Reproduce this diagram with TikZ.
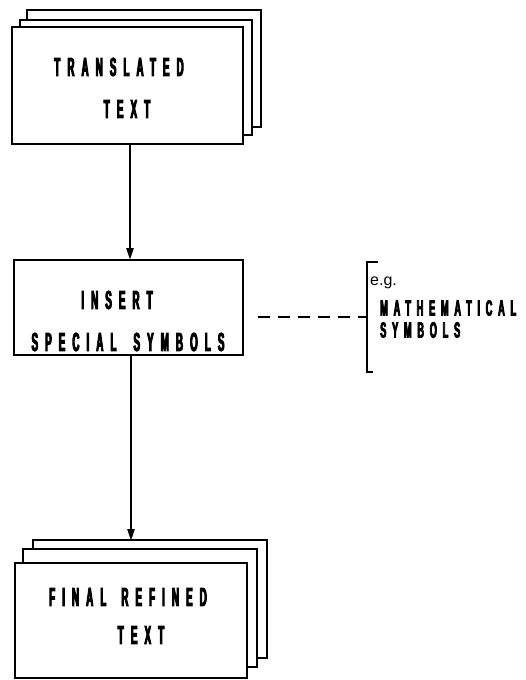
\documentclass[tikz,border=0pt]{standalone}
\usepackage{fontspec}
\setmainfont{Liberation Sans}
\newfontfamily\labfont[FakeStretch=0.38,LetterSpace=27,FakeBold=3.5]{Liberation Sans Bold}
\newfontfamily\smallfont[FakeStretch=0.42,LetterSpace=26,FakeBold=3.5]{Liberation Sans Bold}
\usetikzlibrary{arrows.meta}
\begin{document}
\begin{tikzpicture}[x=1pt,y=-1pt,
  box/.style={draw=black,line width=2.8pt,fill=white,inner sep=0pt},
  lab/.style={inner sep=0pt,font=\labfont\fontsize{26}{26}\selectfont},
  side/.style={inner sep=0pt,font=\smallfont\fontsize{22}{22}\selectfont,anchor=west},
  flow/.style={line width=2.4pt,-{Triangle[length=12pt,width=7pt]}},
  link/.style={line width=2.2pt,dash pattern=on 12pt off 8pt}]
\useasboundingbox (0,0) rectangle (525,680);
% top stack
\node[box,minimum width=234,minimum height=117] (t3) at (144,68.5) {};
\node[box,minimum width=232,minimum height=115] (t2) at (136,77.5) {};
\node[box,minimum width=231,minimum height=117] (t1) at (127.5,85.5) {};
\node[lab] (t1a) at (119,67) {TRANSLATED};
\node[lab] (t1b) at (127,109) {TEXT};
% middle box
\node[box,minimum width=229,minimum height=95] (m) at (128.5,307.5) {};
\node[lab] (ma) at (117,300) {INSERT};
\node[lab] (mb) at (128,342) {SPECIAL\hspace{17pt}SYMBOLS};
% bottom stack
\node[box,minimum width=234,minimum height=118] (b3) at (150,599) {};
\node[box,minimum width=234,minimum height=118] (b2) at (140,608) {};
\node[box,minimum width=232,minimum height=115] (b1) at (131,620.5) {};
\node[lab] (b1a) at (128,597) {FINAL\hspace{15pt}REFINED};
\node[lab] (b1b) at (141,635) {TEXT};
% connectors
\coordinate (a1s) at (130,145);
\coordinate (a1e) at (130,260);
\draw[flow] (a1s) -- (a1e);
\coordinate (a2s) at (131,356);
\coordinate (a2e) at (131,541);
\draw[flow] (a2s) -- (a2e);
% bracket and note
\coordinate (brt) at (367,262);
\coordinate (brb) at (367,372);
\coordinate (dl) at (258,317);
\coordinate (dr) at (367,317);
\draw[line width=2.4pt] (378,262) -- (brt) -- (brb) -- (373,372);
\draw[link] (dl) -- (dr);
\node[anchor=west,inner sep=0pt,font=\fontsize{16}{16}\selectfont] (eg) at (370,283) {e.g.};
\node[side] (n1) at (380,308) {MATHEMATICAL};
\node[side] (n2) at (380,330) {SYMBOLS};
\end{tikzpicture}
\end{document}
